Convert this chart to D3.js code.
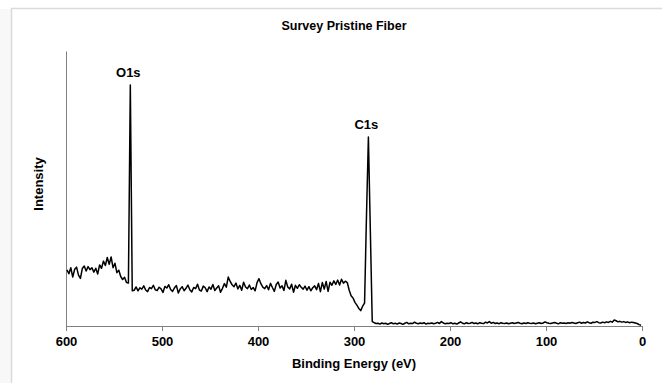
<!doctype html>
<html>
<head>
<script src="https://d3js.org/d3.v7.min.js"></script>
<style>
  body { margin: 0; background: #fff; }
  text { font-family: "Liberation Sans", Arial, sans-serif; font-weight: bold; }
</style>
</head>
<body>
<script>
// binding energy grid (eV), 2 eV steps from 599 down to 1
var energy = d3.range(599, 0, -2);

// intensity (a.u.), one value per energy
var intensity = [
  // 599 - 539
  20.4, 19.0, 21.2, 17.8, 20.6, 21.4, 18.5, 17.3, 20.9, 21.8,
  20.0, 21.6, 20.5, 21.2, 19.6, 21.0, 18.9, 22.2, 21.0, 23.6,
  22.0, 24.9, 22.4, 25.1, 21.2, 22.8, 19.4, 20.3, 18.0, 16.9, 17.7,
  // 537 - 531 (O1s)
  15.8, 15.6, 87.6, 12.8,
  // 529 - 311
  13.0, 14.2, 12.8, 13.9, 13.4, 14.6, 13.1, 12.5, 14.0, 13.6,
  14.8, 13.2, 12.9, 14.1, 13.5, 12.2, 14.4, 13.8, 15.0, 13.3,
  12.6, 13.9, 14.7, 12.0, 13.5, 14.3, 12.8, 13.7, 14.9, 13.2,
  12.4, 14.0, 13.6, 15.2, 13.1, 12.7, 14.5, 13.9, 12.5, 14.2,
  13.4, 15.1, 12.9, 13.8, 14.6, 12.3, 13.7, 15.4, 14.1, 17.8,
  16.2, 15.0, 14.3, 15.6, 13.5, 14.8, 13.0, 15.9, 14.2, 13.6,
  14.9, 13.3, 14.0, 12.8, 15.8, 17.2, 15.4, 14.1, 13.6, 14.7,
  13.2, 15.5, 14.0, 12.6, 15.1, 16.0, 13.8, 14.6, 12.9, 16.6,
  14.2, 13.5, 15.2, 12.3, 14.8, 13.7, 15.0, 14.1, 13.4, 14.5,
  13.0, 14.3, 12.8, 13.9, 14.6, 13.2, 15.5, 12.5, 15.8, 13.4,
  16.2, 12.6, 15.9, 14.8, 16.4, 15.1, 16.7, 14.9, 17.0, 15.6,
  // 309 - 289
  16.3, 15.8, 13.0, 11.0, 10.2, 8.6, 7.6, 6.4, 5.6, 7.2, 8.3,
  // 287 - 281 (C1s)
  40.0, 68.7, 35.0, 1.6,
  // 279 - 1
  1.2, 0.9, 1.0, 0.7, 1.1, 0.8, 1.0, 0.6, 0.9, 1.2,
  0.8, 1.0, 0.7, 1.1, 0.9, 0.6, 1.0, 1.3, 0.8, 1.0,
  0.9, 1.4, 1.0, 0.8, 1.1, 0.9, 1.2, 0.7, 1.0, 0.9,
  1.1, 0.8, 1.0, 1.3, 0.9, 1.6, 1.1, 0.8, 1.0, 0.9,
  1.2, 0.8, 1.0, 0.7, 1.1, 1.5, 1.0, 0.8, 1.2, 0.9,
  1.0, 1.3, 0.9, 1.1, 0.8, 1.2, 1.0, 0.9, 1.4, 1.1,
  1.6, 1.0, 1.3, 0.9, 1.1, 0.8, 1.2, 1.0, 0.9, 1.1,
  0.8, 1.0, 1.2, 0.9, 1.1, 1.3, 1.0, 0.8, 1.1, 0.9,
  1.2, 1.0, 0.9, 1.1, 0.8, 1.0, 1.2, 0.9, 1.1, 1.5,
  1.2, 1.0, 0.9, 1.1, 1.3, 1.0, 0.8, 1.2, 1.0, 1.1,
  0.9, 1.2, 1.0, 1.3, 1.1, 0.9, 1.2, 1.4, 1.0, 1.3,
  1.1, 1.5, 1.2, 1.0, 1.4, 1.3, 1.6, 1.2, 1.1, 1.4,
  1.2, 1.5, 1.3, 1.7, 1.4, 2.2, 1.9, 1.5, 1.7, 1.4,
  1.6, 1.3, 1.5, 1.2, 1.4, 1.3, 1.1, 0.9, 0.5, 0.3
];

var xTicks = [600, 500, 400, 300, 200, 100, 0];
var peakLabels = ["O1s", "C1s"];
var peakEnergy = [533, 285];

var data = energy.map(function(e, i) { return {e: e, v: intensity[i]}; });

var W = 662, H = 383;
var margin = {top: 51, right: 20, bottom: 57, left: 66};

var svg = d3.select("body").append("svg")
    .attr("width", W)
    .attr("height", H);

// chart area frame
svg.append("rect")
   .attr("x", 0).attr("y", 9)
   .attr("width", 11).attr("height", H)
   .attr("fill", "#f8f8f8");
svg.append("rect")
   .attr("x", 11.5).attr("y", 8.5)
   .attr("width", W + 10).attr("height", H + 10)
   .attr("fill", "#fff")
   .attr("stroke", "#dadada")
   .attr("stroke-width", 1.5);

var x = d3.scaleLinear().domain([600, 0]).range([margin.left, W - margin.right]);
var y = d3.scaleLinear().domain([0, 100]).range([H - margin.bottom, margin.top]);

// title
svg.append("text")
   .attr("x", 344).attr("y", 30)
   .attr("text-anchor", "middle")
   .attr("font-size", "12.5px")
   .text("Survey Pristine Fiber");

// x axis
var xAxis = svg.append("g")
   .attr("transform", "translate(0," + y(0) + ")")
   .call(d3.axisBottom(x).tickValues(xTicks).tickSize(5).tickSizeOuter(0).tickPadding(6));
xAxis.select(".domain").attr("stroke", "#808080");
xAxis.selectAll(".tick line").attr("stroke", "#808080");
xAxis.selectAll(".tick text")
   .attr("fill", "#000")
   .attr("font-size", "13px")
   .attr("font-weight", "bold")
   .attr("font-family", "Liberation Sans, Arial, sans-serif");

// y axis: plain line, no ticks
var yAxis = svg.append("g")
   .attr("transform", "translate(" + margin.left + ",0)")
   .call(d3.axisLeft(y).tickValues([]).tickSizeOuter(0));
yAxis.select(".domain").attr("stroke", "#808080");

svg.append("text")
   .attr("x", 354).attr("y", 368)
   .attr("text-anchor", "middle")
   .attr("font-size", "13px")
   .text("Binding Energy (eV)");

svg.append("text")
   .attr("transform", "translate(43," + 184 + ") rotate(-90)")
   .attr("text-anchor", "middle")
   .attr("font-size", "13px")
   .text("Intensity");

var line = d3.line()
   .x(function(d) { return x(d.e); })
   .y(function(d) { return y(d.v); });

svg.append("path")
   .datum(data)
   .attr("fill", "none")
   .attr("stroke", "#000")
   .attr("stroke-width", 1.5)
   .attr("stroke-linejoin", "round")
   .attr("d", line);

// peak labels just above each peak top
svg.selectAll(".peak")
   .data(peakLabels)
   .enter().append("text")
   .attr("class", "peak")
   .attr("x", function(d, i) { return x(peakEnergy[i]) - 2; })
   .attr("y", function(d, i) {
       var top = d3.max(data.filter(function(p) { return Math.abs(p.e - peakEnergy[i]) < 3; }), function(p) { return p.v; });
       return y(top) - 8;
   })
   .attr("text-anchor", "middle")
   .attr("font-size", "13px")
   .text(function(d) { return d; });
</script>
</body>
</html>
